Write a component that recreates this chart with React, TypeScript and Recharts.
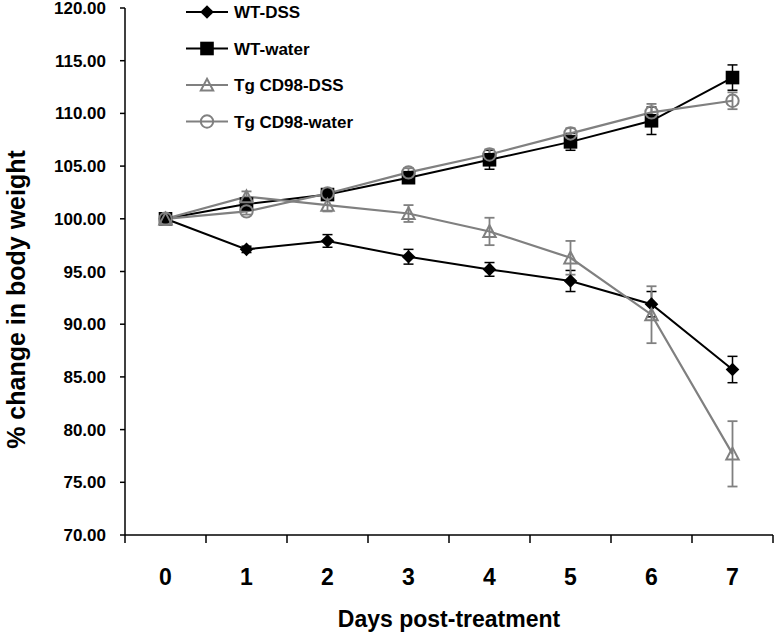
import React from 'react';
import { LineChart, Line, XAxis, YAxis, ErrorBar, Legend } from 'recharts';

// ---- data ----
const DAYS = [0, 1, 2, 3, 4, 5, 6, 7];
const WT_DSS = [100, 97.1, 97.9, 96.4, 95.2, 94.1, 91.9, 85.7];
const WT_DSS_ERR = [0, 0.3, 0.6, 0.7, 0.65, 1.0, 1.2, 1.25];
const WT_WATER = [100, 101.4, 102.3, 103.9, 105.6, 107.3, 109.3, 113.4];
const WT_WATER_ERR = [0, 0.4, 0.5, 0.5, 0.9, 0.8, 1.3, 1.2];
const TG_DSS = [100, 102.1, 101.3, 100.5, 98.8, 96.3, 90.9, 77.7];
const TG_DSS_ERR = [0, 0.5, 0.6, 0.8, 1.3, 1.6, 2.7, 3.1];
const TG_WATER = [100, 100.7, 102.4, 104.4, 106.1, 108.1, 110.1, 111.2];
const TG_WATER_ERR = [0, 0.3, 0.4, 0.4, 0.5, 0.5, 0.8, 0.8];
const Y_TICKS = [70, 75, 80, 85, 90, 95, 100, 105, 110, 115, 120];
const SERIES_NAMES = ['WT-DSS', 'WT-water', 'Tg CD98-DSS', 'Tg CD98-water'];
const X_TITLE = 'Days post-treatment';
const Y_TITLE = '% change in body weight';

const data = DAYS.map((d, i) => ({
  day: d,
  wtDss: WT_DSS[i],
  wtDssErr: WT_DSS_ERR[i],
  wtWater: WT_WATER[i],
  wtWaterErr: WT_WATER_ERR[i],
  tgDss: TG_DSS[i],
  tgDssErr: TG_DSS_ERR[i],
  tgWater: TG_WATER[i],
  tgWaterErr: TG_WATER_ERR[i],
}));

// ---- layout / style ----
const W = 776;
const H = 636;
const MARGIN = { top: 8, right: 3, bottom: 0, left: 0 };
const YAXIS_W = 125;
const XAXIS_H = 101;
const HALF_BAND = (W - MARGIN.right - MARGIN.left - YAXIS_W) / DAYS.length / 2;
const BLACK = '#000000';
const GREY = '#808080';
const FONT = '"Liberation Sans", Arial, Helvetica, sans-serif';

type Kind = 'diamond' | 'square' | 'triangle' | 'circle';
const KINDS: Kind[] = ['diamond', 'square', 'triangle', 'circle'];
const COLORS = [BLACK, BLACK, GREY, GREY];

function Marker({ kind, cx, cy, color }: { kind: Kind; cx: number; cy: number; color: string }) {
  if (kind === 'diamond') {
    const s = 6.8;
    return <polygon points={`${cx},${cy - s} ${cx + s},${cy} ${cx},${cy + s} ${cx - s},${cy}`} fill={color} />;
  }
  if (kind === 'square') {
    const s = 6.8;
    return <rect x={cx - s} y={cy - s} width={2 * s} height={2 * s} fill={color} />;
  }
  if (kind === 'triangle') {
    const s = 6.2;
    return (
      <polygon
        points={`${cx},${cy - s} ${cx + s},${cy + s * 0.9} ${cx - s},${cy + s * 0.9}`}
        fill="none"
        stroke={color}
        strokeWidth={2}
      />
    );
  }
  return <circle cx={cx} cy={cy} r={6.2} fill="none" stroke={color} strokeWidth={2} />;
}

const makeDot = (kind: Kind, color: string) => (props: any) => {
  const { cx, cy, index } = props;
  if (cx == null || cy == null) return <g key={`${kind}-${index}`} />;
  return (
    <g key={`${kind}-${index}`}>
      <Marker kind={kind} cx={cx} cy={cy} color={color} />
    </g>
  );
};

const XTick = (props: any) => {
  const { x, y, payload } = props;
  const last = payload.value === DAYS[DAYS.length - 1];
  return (
    <g>
      <line x1={x - HALF_BAND} x2={x - HALF_BAND} y1={y} y2={y + 8} stroke={BLACK} strokeWidth={1.5} />
      {last && <line x1={x + HALF_BAND} x2={x + HALF_BAND} y1={y} y2={y + 8} stroke={BLACK} strokeWidth={1.5} />}
      <text x={x} y={y + 50} textAnchor="middle" fontSize={23} fontWeight="bold" fontFamily={FONT} fill={BLACK}>
        {payload.value}
      </text>
    </g>
  );
};

const LegendContent = () => (
  <svg width={W} height={140} style={{ display: 'block' }}>
    {SERIES_NAMES.map((name, i) => {
      const y = 12 + i * 36.5;
      return (
        <g key={name}>
          <line x1={186} x2={228} y1={y} y2={y} stroke={COLORS[i]} strokeWidth={2} />
          <Marker kind={KINDS[i]} cx={207} cy={y} color={COLORS[i]} />
          <text x={234} y={y} dy="0.36em" fontSize={17} fontWeight="bold" fontFamily={FONT} fill={BLACK}>
            {name}
          </text>
        </g>
      );
    })}
  </svg>
);

export default function App() {
  return (
    <div style={{ position: 'absolute', left: 0, top: 0, width: W, height: H, background: '#fff' }}>
      <LineChart width={W} height={H} data={data} margin={MARGIN}>
        <XAxis
          dataKey="day"
          type="number"
          domain={[-0.5, 7.5]}
          ticks={DAYS}
          interval={0}
          tickLine={false}
          tickSize={0}
          tickMargin={0}
          height={XAXIS_H}
          axisLine={{ stroke: BLACK, strokeWidth: 1.5 }}
          tick={<XTick />}
          label={{
            content: (p: any) => {
              const vb = p.viewBox || { x: YAXIS_W, y: 535, width: 648, height: XAXIS_H };
              return (
                <text
                  x={vb.x + vb.width / 2}
                  y={vb.y + 92}
                  textAnchor="middle"
                  fontSize={23}
                  fontWeight="bold"
                  fontFamily={FONT}
                  fill={BLACK}
                >
                  {X_TITLE}
                </text>
              );
            },
          }}
        />
        <YAxis
          type="number"
          domain={[70, 120]}
          ticks={Y_TICKS}
          interval={0}
          width={YAXIS_W}
          tickSize={5}
          tickMargin={14}
          tickFormatter={(v: number) => v.toFixed(2)}
          axisLine={{ stroke: BLACK, strokeWidth: 1.5 }}
          tickLine={{ stroke: BLACK, strokeWidth: 1.5 }}
          tick={{ fontSize: 17, fontWeight: 'bold', fill: BLACK, fontFamily: FONT }}
          label={{
            content: (p: any) => {
              const vb = p.viewBox || { x: 0, y: 8, width: YAXIS_W, height: 527 };
              const cx = vb.x + 16;
              const cy = vb.y + vb.height / 2 + 28;
              return (
                <text
                  x={cx}
                  y={cy}
                  transform={`rotate(-90, ${cx}, ${cy})`}
                  textAnchor="middle"
                  dominantBaseline="central"
                  fontSize={25}
                  fontWeight="bold"
                  fontFamily={FONT}
                  fill={BLACK}
                >
                  {Y_TITLE}
                </text>
              );
            },
          }}
        />
        <Legend
          layout="vertical"
          align="center"
          verticalAlign="middle"
          wrapperStyle={{ position: 'absolute', left: 0, top: 0, width: W, height: 140, pointerEvents: 'none' }}
          content={<LegendContent />}
        />
        <Line
          name={SERIES_NAMES[0]}
          dataKey="wtDss"
          type="linear"
          stroke={BLACK}
          strokeWidth={2}
          dot={makeDot('diamond', BLACK)}
          activeDot={false}
          isAnimationActive={false}
        >
          <ErrorBar dataKey="wtDssErr" direction="y" width={5} stroke={BLACK} strokeWidth={1.5} />
        </Line>
        <Line
          name={SERIES_NAMES[1]}
          dataKey="wtWater"
          type="linear"
          stroke={BLACK}
          strokeWidth={2}
          dot={makeDot('square', BLACK)}
          activeDot={false}
          isAnimationActive={false}
        >
          <ErrorBar dataKey="wtWaterErr" direction="y" width={5} stroke={BLACK} strokeWidth={1.5} />
        </Line>
        <Line
          name={SERIES_NAMES[2]}
          dataKey="tgDss"
          type="linear"
          stroke={GREY}
          strokeWidth={2.2}
          dot={makeDot('triangle', GREY)}
          activeDot={false}
          isAnimationActive={false}
        >
          <ErrorBar dataKey="tgDssErr" direction="y" width={5} stroke={GREY} strokeWidth={1.8} />
        </Line>
        <Line
          name={SERIES_NAMES[3]}
          dataKey="tgWater"
          type="linear"
          stroke={GREY}
          strokeWidth={2.2}
          dot={makeDot('circle', GREY)}
          activeDot={false}
          isAnimationActive={false}
        >
          <ErrorBar dataKey="tgWaterErr" direction="y" width={5} stroke={GREY} strokeWidth={1.8} />
        </Line>
      </LineChart>
    </div>
  );
}
